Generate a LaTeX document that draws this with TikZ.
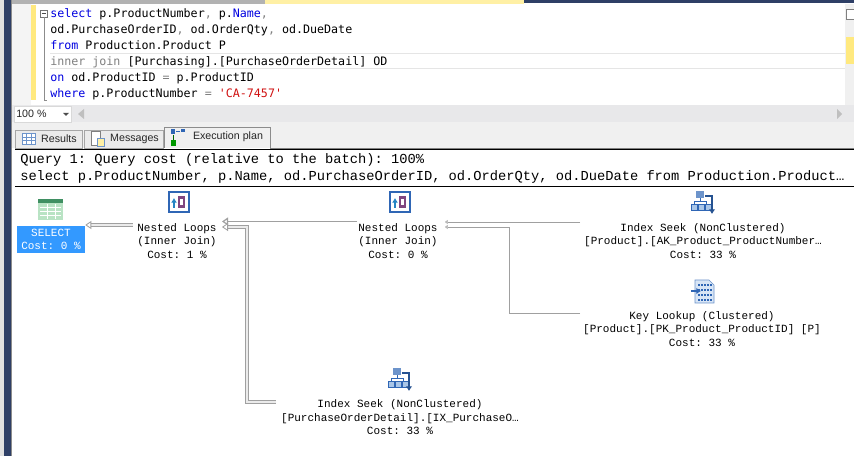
\documentclass[tikz,border=0pt]{standalone}
\usepackage{fontspec}
\setmainfont{Liberation Sans}
\newfontfamily\planfamily{Liberation Mono}
\newfontfamily\sqlfamily{DejaVu Sans Mono}
\usetikzlibrary{arrows.meta,positioning}
\frenchspacing
\definecolor{navy}{HTML}{2E3F66}
\definecolor{panel}{HTML}{F0F0F0}
\definecolor{barcolor}{HTML}{E8E8EA}
\definecolor{margincolor}{HTML}{F4F4F4}
\definecolor{gutter}{HTML}{FFE97F}
\definecolor{pickblue}{HTML}{3399FF}
\definecolor{iconblue}{HTML}{2F66B5}
\definecolor{iconpale}{HTML}{A9C6E8}
\definecolor{linkgray}{HTML}{A0A0A0}
\definecolor{sqlkey}{HTML}{0000E0}
\definecolor{sqlgray}{HTML}{808080}
\definecolor{sqlred}{HTML}{D01010}
\definecolor{tablehead}{HTML}{3F8F62}
\definecolor{tablebody}{HTML}{B9E3C4}
\tikzstyle{opnode}=[font=\fontsize{8.25}{10.1}\planfamily\selectfont,align=center,inner sep=0pt]
\tikzstyle{headline}=[font=\fontsize{10.3}{12}\planfamily\selectfont,anchor=base west,inner sep=0pt]
\tikzstyle{tabtext}=[font=\fontsize{8}{10}\selectfont,inner sep=0pt,text=black!85]
\tikzstyle{tabbox}=[draw=black!35,fill=black!8]
\tikzstyle{flowthick}=[draw=linkgray,double=black!8,double distance=1.6pt,line width=0.6pt,-{Triangle[open,length=4.5pt,width=6pt,fill=white]}]
\tikzstyle{flowthin}=[draw=linkgray,line width=0.6pt,-{Triangle[open,length=2pt,width=3pt,fill=white]}]
% icons, #1 is the upper left corner
\newcommand{\tableicon}[1]{\begin{scope}[shift={#1}]
  \fill[tablebody] (0,0) rectangle (25,21);
  \fill[tablehead] (0,0) rectangle (25,4);
  \foreach \rowy in {8,12,16} \draw[white,line width=0.5pt] (2,\rowy) -- (23,\rowy);
  \foreach \colx in {9,17} \draw[white,line width=0.5pt] (\colx,5) -- (\colx,20);
\end{scope}}
\newcommand{\loopsicon}[1]{\begin{scope}[shift={#1}]
  \draw[iconblue,line width=1.1pt,fill=white] (1,1) rectangle (21,21);
  \fill[violet!45!gray] (10,5) rectangle (17,17);
  \fill[white] (12,8) rectangle (15,14);
  \draw[iconblue!80!cyan,line width=1.2pt,-{Latex[length=3.5pt,width=4.5pt]}] (6,17) -- (6,7);
\end{scope}}
\newcommand{\seekicon}[1]{\begin{scope}[shift={#1}]
  \draw[iconblue,line width=0.7pt] (9,6) -- (9,10) (3,13) -- (3,10) -- (15,10) -- (15,13);
  \fill[iconblue!70] (5,0) rectangle (13,7);
  \foreach \cubex in {0,7,14} \draw[iconblue,fill=iconpale,line width=0.4pt] (\cubex,13) rectangle ++(6,6);
  \draw[iconblue!80!black,line width=1.6pt,-{Latex[length=3.5pt,width=5pt]}] (14,5) -- (21,5) -- (21,23);
\end{scope}}
\newcommand{\lookupicon}[1]{\begin{scope}[shift={#1}]
  \draw[iconblue!70,fill=iconpale!45,line width=0.5pt] (4,0) -- (18,0) -- (23,5) -- (23,23) -- (4,23) -- cycle;
  \foreach \rowy in {5,10,15,20} \draw[iconblue,line width=1pt,dash pattern=on 1.5pt off 0.8pt] (7,\rowy) -- (21,\rowy);
  \draw[iconblue,line width=1.5pt,-{Latex[length=3.5pt,width=5pt]}] (0,11) -- (10,11);
\end{scope}}

\begin{document}
\begin{tikzpicture}[x=0.75pt,y=-0.75pt]
  \useasboundingbox (0,0) rectangle (854,456);

  % window frame
  \fill[white] (0,0) rectangle (854,456);
  \fill[black!12] (0,0) rectangle (4,456);
  \fill[navy] (4,0) rectangle (11,456);
  \fill[black!45] (11,0) rectangle (12,456);
  \fill[black!30] (12,0) rectangle (265,4);
  \fill[gutter!70] (265,0) rectangle (524,4);
  \fill[navy] (524,0) rectangle (854,3);

  % editor
  \fill[margincolor] (12,4) rectangle (31,105);
  \fill[gutter] (31,5) rectangle (36,100);
  \draw[black!10,line width=0.8pt] (50,53.5) -- (845,53.5) (50,68.5) -- (845,68.5);
  \draw[black!55,line width=0.5pt,fill=white] (40,10) rectangle (47,17);
  \draw[black!70,line width=0.5pt] (41.5,13.5) -- (45.5,13.5);
  \draw[black!45,line width=0.5pt] (44,17) -- (44,100) -- (47,100);
  \fill[panel] (845,4) rectangle (854,105);
  \fill[gutter] (846,37) rectangle (854,64);
  \draw[black!50,fill=white] (846,9) rectangle (854,19);
  \node[anchor=north west,align=left,inner sep=0pt,font=\fontsize{8.75}{12}\sqlfamily\selectfont] (query) at (50,8) {%
    \textcolor{sqlkey}{select} p.ProductNumber\textcolor{sqlgray}{,} p.\textcolor{sqlkey}{Name}\textcolor{sqlgray}{,}\\
    od.PurchaseOrderID\textcolor{sqlgray}{,} od.OrderQty\textcolor{sqlgray}{,} od.DueDate\\
    \textcolor{sqlkey}{from} Production.Product P\\
    \textcolor{sqlgray}{inner join} [Purchasing].[PurchaseOrderDetail] OD\\
    \textcolor{sqlkey}{on} od.ProductID \textcolor{sqlgray}{=} p.ProductID\\
    \textcolor{sqlkey}{where} p.ProductNumber \textcolor{sqlgray}{=} \textcolor{sqlred}{'CA-7457'}};

  % zoom bar and tabs
  \fill[barcolor] (12,105) rectangle (854,122);
  \fill[panel] (12,122) rectangle (854,148);
  \draw[black!15,fill=white] (14.5,106.5) rectangle (71.5,122);
  \node[tabtext,anchor=west] (zoomlevel) at (16,114) {100 \%};
  \fill[black!70] (63,113) -- (69,113) -- (66,116) -- cycle;
  \fill[black!25] (84,109) -- (84,119) -- (78,114) -- cycle;
  \fill[black!25] (837,109) -- (837,119) -- (842,114) -- cycle;
  \draw[tabbox] (15,130) rectangle (82,148);
  \draw[tabbox] (84,130) rectangle (163,148);
  \draw[black!45,fill=panel] (164,148) -- (164,127) -- (270,127) -- (270,148);
  \draw[black!50,line width=0.5pt] (270,148) -- (854,148);
  \node[tabtext] (tabresults) at (59,139) {Results};
  \node[tabtext] (tabmessages) at (134.5,139) {Messages};
  \node[tabtext] (tabplan) at (228,137) {Execution plan};
  \draw[iconblue!70,fill=white,line width=0.5pt] (22,133) rectangle (35,144);
  \draw[iconblue!70,line width=0.4pt] (22,137) -- (35,137) (22,140.5) -- (35,140.5) (26.5,133) -- (26.5,144) (31,133) -- (31,144);
  \draw[black!50,fill=white,line width=0.5pt] (91,131) rectangle (100,145);
  \draw[iconblue!70,fill=gutter!70,line width=0.5pt] (97,138) rectangle (104,146);
  \fill[iconblue] (171,129) rectangle (175,134);
  \fill[iconblue] (181,129) rectangle (185,132);
  \draw[iconblue,line width=0.4pt] (176,131) -- (180,131);
  \fill[green!60!black] (171,140) rectangle (176,146);
  \draw[green!40!black,line width=0.4pt] (173.5,135) -- (173.5,140);

  % plan header
  \draw[black,line width=0.8pt] (15,149.5) -- (854,149.5);
  \draw[black,line width=0.8pt] (15,186.5) -- (854,186.5);
  \node[headline] (costline) at (20,164) {Query 1: Query cost (relative to the batch): 100\%};
  \node[headline] (stmtline) at (20,181) {select p.ProductNumber, p.Name, od.PurchaseOrderID, od.OrderQty, od.DueDate from Production.Product…};

  % operators
  \node[fill=pickblue,text=white,minimum width=51pt,minimum height=20.25pt,opnode] (select) at (51,239.5) {SELECT\\Cost: 0 \%};
  \foreach \pos/\name/\lines in {%
      {(177,241)/loopsouter/{Nested Loops\\(Inner Join)\\Cost: 1 \%}},
      {(398,241)/loopsinner/{Nested Loops\\(Inner Join)\\Cost: 0 \%}},
      {(703,241)/seekproduct/{Index Seek (NonClustered)\\{[Product].[AK\_Product\_ProductNumber…}\\Cost: 33 \%}},
      {(702,329)/lookupproduct/{Key Lookup (Clustered)\\{[Product].[PK\_Product\_ProductID] [P]}\\Cost: 33 \%}},
      {(400,417.5)/seekdetail/{Index Seek (NonClustered)\\{[PurchaseOrderDetail].[IX\_PurchaseO…}\\Cost: 33 \%}}}
    \node[opnode] (\name) at \pos {\lines};

  \tableicon{(38,199)}
  \loopsicon{(168,191)}
  \loopsicon{(389,191)}
  \seekicon{(691,191)}
  \lookupicon{(691,280)}
  \seekicon{(388,368)}

  % connectors
  \coordinate (outerin) at (133,225);
  \coordinate (outerup) at (222,221.5);
  \coordinate (outerdown) at (222,227);
  \coordinate (innerout) at (357,221.5);
  \coordinate (detailout) at (276,402);
  \coordinate (innerup) at (445,222);
  \coordinate (innerdown) at (445,227);
  \coordinate (productout) at (580,222);
  \coordinate (lookupout) at (580,313);

  \draw[flowthick] (outerin) -- (select.east |- outerin);
  \draw[draw=linkgray,line width=0.9pt,-{Triangle[open,length=4.5pt,width=6pt,fill=white]}] (innerout) -- (outerup);
  \draw[flowthick] (detailout) -| (247,227) -- (outerdown);
  \draw[flowthin] (productout) -- (innerup);
  \draw[flowthin] (lookupout) -| (509,227) -- (innerdown);
\end{tikzpicture}
\end{document}
